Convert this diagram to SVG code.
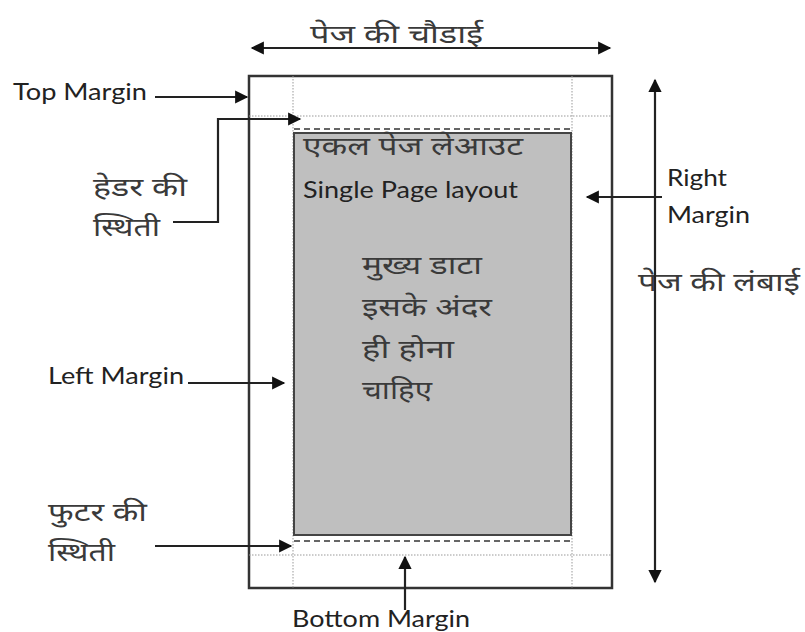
<svg xmlns="http://www.w3.org/2000/svg" width="805" height="632" viewBox="0 0 805 632">
<style>
.en{font-family:Lato,"Open Sans","Liberation Sans",sans-serif;font-size:23px;fill:#222}
.hi{font-family:"Noto Sans Devanagari","Noto Sans","Liberation Sans",sans-serif;font-size:26px;fill:#3a3a3a}
.ln{stroke:#222;stroke-width:2.2;fill:none}
.dot{stroke:#999;stroke-width:1;stroke-dasharray:1.5 1.5;fill:none}
.dash{stroke:#666;stroke-width:2;stroke-dasharray:6 4;fill:none}
</style>
<defs>
<marker id="ah" viewBox="0 0 10 10" refX="9" refY="5" markerWidth="6.5" markerHeight="6" orient="auto-start-reverse" markerUnits="strokeWidth">
<path d="M0,0 L10,5 L0,10 Z" fill="#111"/>
</marker>
</defs>
<rect width="805" height="632" fill="#fff"/>
<g id="page">
<rect x="249" y="76" width="363" height="512" fill="#fff" stroke="#333" stroke-width="2.5"/>
<line class="dot" x1="293" y1="76" x2="293" y2="588"/>
<line class="dot" x1="572" y1="76" x2="572" y2="588"/>
<line class="dot" x1="249" y1="116" x2="612" y2="116"/>
<line class="dot" x1="249" y1="555" x2="612" y2="555"/>
<line class="dash" x1="294" y1="129" x2="571" y2="129"/>
<line class="dash" x1="294" y1="541" x2="571" y2="541"/>
</g>
<g id="content">
<rect x="294" y="133" width="277" height="402" fill="#bfbfbf" stroke="#444" stroke-width="2"/>
<text class="hi" x="303" y="155" textLength="220" lengthAdjust="spacingAndGlyphs">एकल पेज लेआउट</text>
<text class="en" x="303" y="198" font-size="21" textLength="215" lengthAdjust="spacingAndGlyphs">Single Page layout</text>
<text class="hi" x="362" y="274" textLength="120" lengthAdjust="spacingAndGlyphs">मुख्य डाटा</text>
<text class="hi" x="362" y="316" textLength="130" lengthAdjust="spacingAndGlyphs">इसके अंदर</text>
<text class="hi" x="362" y="358" textLength="92" lengthAdjust="spacingAndGlyphs">ही होना</text>
<text class="hi" x="362" y="399" textLength="70" lengthAdjust="spacingAndGlyphs">चाहिए</text>
</g>
<g id="labels">
<text class="hi" x="310" y="43" textLength="173" lengthAdjust="spacingAndGlyphs">पेज की चौडाई</text>
<text class="en" x="13" y="100" textLength="134" lengthAdjust="spacingAndGlyphs">Top Margin</text>
<text class="hi" x="93" y="196" textLength="94" lengthAdjust="spacingAndGlyphs">हेडर की</text>
<text class="hi" x="93" y="236" textLength="67" lengthAdjust="spacingAndGlyphs">स्थिती</text>
<text class="en" x="667" y="186" textLength="60" lengthAdjust="spacingAndGlyphs">Right</text>
<text class="en" x="667" y="223" textLength="83" lengthAdjust="spacingAndGlyphs">Margin</text>
<text class="hi" x="638" y="291" textLength="162" lengthAdjust="spacingAndGlyphs">पेज की लंबाई</text>
<text class="en" x="48" y="384" textLength="136" lengthAdjust="spacingAndGlyphs">Left Margin</text>
<text class="hi" x="48" y="521" textLength="99" lengthAdjust="spacingAndGlyphs">फुटर की</text>
<text class="hi" x="48" y="561" textLength="67" lengthAdjust="spacingAndGlyphs">स्थिती</text>
<text class="en" x="292" y="627" textLength="178" lengthAdjust="spacingAndGlyphs">Bottom Margin</text>
</g>
<g id="connectors">
<line class="ln" x1="252" y1="48" x2="610" y2="48" marker-start="url(#ah)" marker-end="url(#ah)"/>
<line class="ln" x1="655" y1="80" x2="655" y2="582" marker-start="url(#ah)" marker-end="url(#ah)"/>
<line class="ln" x1="155" y1="97" x2="247" y2="97" marker-end="url(#ah)"/>
<polyline class="ln" points="173,222 218,222 218,119 300,119" marker-end="url(#ah)"/>
<line class="ln" x1="662" y1="197" x2="587" y2="197" marker-end="url(#ah)"/>
<line class="ln" x1="188" y1="383" x2="284" y2="383" marker-end="url(#ah)"/>
<line class="ln" x1="155" y1="546" x2="291" y2="546" marker-end="url(#ah)"/>
<line class="ln" x1="405" y1="610" x2="405" y2="557" marker-end="url(#ah)"/>
</g>
</svg>
